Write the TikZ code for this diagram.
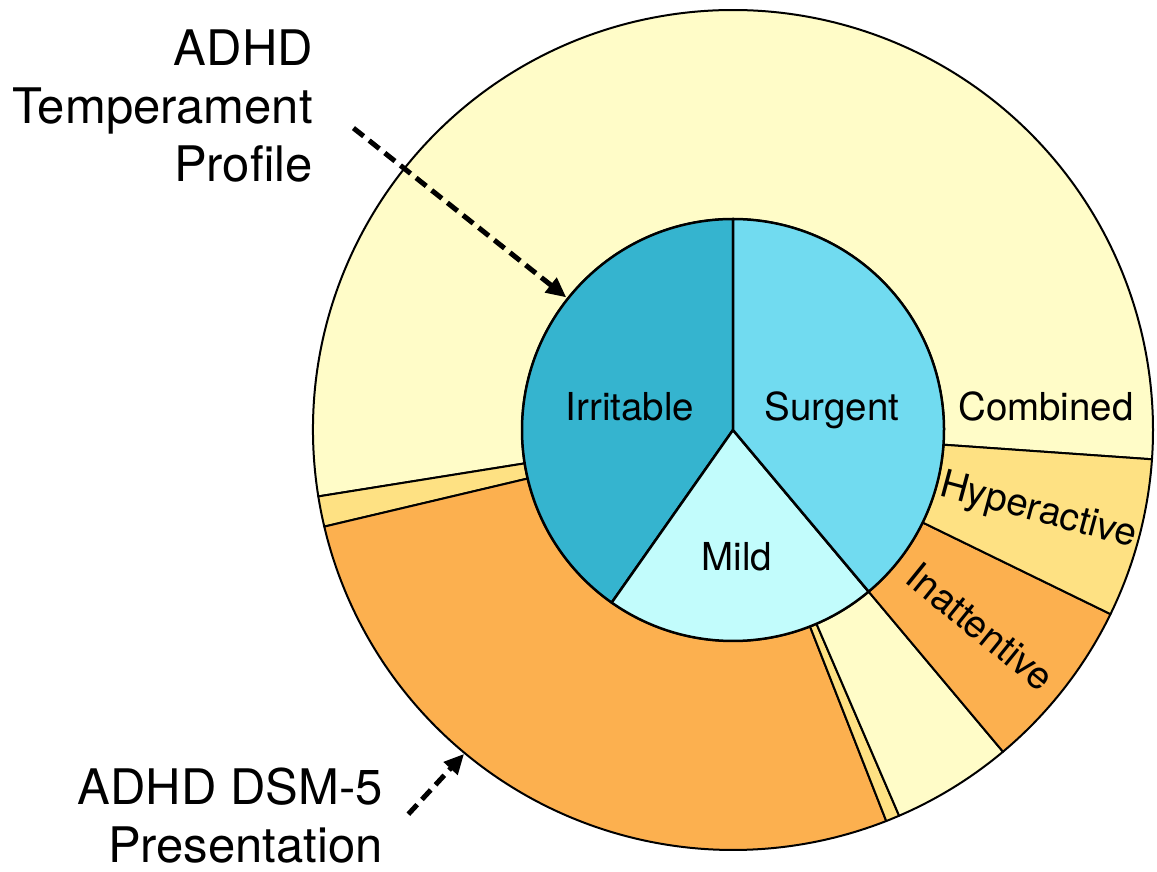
\documentclass[tikz,border=0pt]{standalone}
\usepackage{fontspec}
\setmainfont{TeX Gyre Heros}
\usetikzlibrary{arrows.meta}

\definecolor{irritable}{RGB}{53,180,207}
\definecolor{surgent}{RGB}{113,219,240}
\definecolor{mild}{RGB}{194,252,252}
\definecolor{combined}{RGB}{255,252,200}
\definecolor{hyperactive}{RGB}{254,225,131}
\definecolor{inattentive}{RGB}{252,176,79}

% ring piece between the two radii: colour, start angle, end angle
\newcommand{\ringsector}[3]{%
  \filldraw[fill=#1, draw=black, line width=2pt, line join=round]
    (#2:211) arc[start angle=#2, end angle=#3, radius=211]
    -- (#3:420) arc[start angle=#3, end angle=#2, radius=420] -- cycle;}
% pie piece of the inner disc
\newcommand{\innersector}[3]{%
  \filldraw[fill=#1, draw=black, line width=2.5pt, line join=round]
    (0,0) -- (#2:211) arc[start angle=#2, end angle=#3, radius=211] -- cycle;}

\tikzset{
  seglabel/.style={font=\fontsize{38.5}{46}\selectfont, inner sep=0pt},
  sidelabel/.style={font=\fontsize{49}{58}\selectfont, align=right, inner sep=0pt},
  pointer/.style={line width=5pt, dash pattern=on 13pt off 7pt,
    -{Triangle[length=20pt, width=18pt]}}
}

\begin{document}
\begin{tikzpicture}[x=1pt, y=1pt]
  \useasboundingbox (0,0) rectangle (1157,871);
  \begin{scope}[shift={(733,441)}]
    % Outer ring: DSM-5 presentation
    \ringsector{combined}{-4}{189.1}
    \ringsector{hyperactive}{189.1}{193.3}
    \ringsector{inattentive}{193.3}{291.4}
    \ringsector{hyperactive}{291.4}{293.3}
    \ringsector{combined}{293.3}{310}
    \ringsector{inattentive}{310}{334}
    \ringsector{hyperactive}{334}{356}
    % Inner disc: temperament profile
    \innersector{irritable}{90}{234.9}
    \innersector{mild}{234.9}{310}
    \innersector{surgent}{310}{450}
    % Arrow ends
    \coordinate (tpstart) at (141.5:485);
    \coordinate (tpend) at (141.5:213);
    \coordinate (dsmstart) at (229.8:503);
    \coordinate (dsmend) at (230.3:421);
    % Ring labels
    \node[seglabel, rotate=-15] (hyp) at (345:316) {Hyperactive};
    \node[seglabel, rotate=-39] (inat) at (321.5:316) {Inattentive};
  \end{scope}
  % Disc labels
  \node[seglabel, anchor=base] (irr) at (630,450) {Irritable};
  \node[seglabel, anchor=base] (sur) at (832,450) {Surgent};
  \node[seglabel, anchor=base] (mild) at (737,300) {Mild};
  \node[seglabel, anchor=base] (comb) at (1046,450) {Combined};
  % Side labels
  \node[sidelabel, anchor=north east] (tplabel) at (313,841) {ADHD\\Temperament\\Profile};
  \node[sidelabel, anchor=north east] (dsmlabel) at (383,103) {ADHD DSM-5\\Presentation};
  % Pointers
  \draw[pointer] (tpstart) -- (tpend);
  \draw[pointer] (dsmstart) -- (dsmend);
\end{tikzpicture}
\end{document}
